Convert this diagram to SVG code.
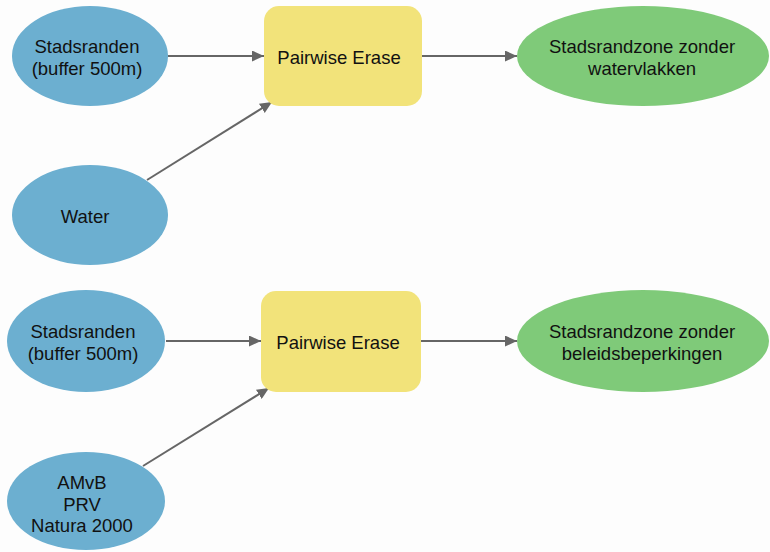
<svg xmlns="http://www.w3.org/2000/svg" width="770" height="552" viewBox="0 0 770 552">
  <style>
    .input { fill: #6cafd0; }
    .tool { fill: #f2e37a; }
    .output { fill: #7fca79; }
    .label { font-family: "Liberation Sans", Arial, sans-serif; font-size: 18.5px; fill: #111; text-anchor: middle; }
    .conn { stroke: #666; stroke-width: 2; fill: none; marker-end: url(#arrow); }
  </style>
  <defs>
    <marker id="arrow" markerWidth="12" markerHeight="11" refX="12" refY="5.5" orient="auto" markerUnits="userSpaceOnUse">
      <path d="M0,0 L12,5.5 L0,11 Z" fill="#666"/>
    </marker>
  </defs>
  <rect width="770" height="552" fill="#fdfdfd"/>

  <g id="connectors">
    <line class="conn" x1="168" y1="56" x2="264" y2="56"/>
    <line class="conn" x1="147" y1="180" x2="272" y2="102"/>
    <line class="conn" x1="422" y1="56" x2="517" y2="56"/>
    <line class="conn" x1="166" y1="341" x2="261" y2="341"/>
    <line class="conn" x1="143" y1="466" x2="269" y2="388"/>
    <line class="conn" x1="421" y1="341" x2="517" y2="341"/>
  </g>

  <g id="stadsranden-1">
    <ellipse class="input" cx="90" cy="56" rx="78" ry="50"/>
    <text class="label" x="87" y="53">Stadsranden</text>
    <text class="label" x="87" y="75">(buffer 500m)</text>
  </g>
  <g id="water">
    <ellipse class="input" cx="90" cy="215" rx="78" ry="50"/>
    <text class="label" x="85" y="223">Water</text>
  </g>
  <g id="pairwise-erase-1">
    <rect class="tool" x="264" y="6" width="158" height="100" rx="15"/>
    <text class="label" x="339" y="64">Pairwise Erase</text>
  </g>
  <g id="zone-zonder-water">
    <ellipse class="output" cx="643" cy="56" rx="126" ry="50"/>
    <text class="label" x="642" y="53">Stadsrandzone zonder</text>
    <text class="label" x="642" y="75">watervlakken</text>
  </g>

  <g id="stadsranden-2">
    <ellipse class="input" cx="86" cy="341" rx="79" ry="51"/>
    <text class="label" x="83" y="338">Stadsranden</text>
    <text class="label" x="83" y="360">(buffer 500m)</text>
  </g>
  <g id="beleid">
    <ellipse class="input" cx="86" cy="501" rx="79" ry="49"/>
    <text class="label" x="82" y="489">AMvB</text>
    <text class="label" x="82" y="511">PRV</text>
    <text class="label" x="82" y="532">Natura 2000</text>
  </g>
  <g id="pairwise-erase-2">
    <rect class="tool" x="261" y="291" width="160" height="101" rx="15"/>
    <text class="label" x="338" y="349">Pairwise Erase</text>
  </g>
  <g id="zone-zonder-beleid">
    <ellipse class="output" cx="643" cy="341" rx="126" ry="51"/>
    <text class="label" x="642" y="338">Stadsrandzone zonder</text>
    <text class="label" x="642" y="360">beleidsbeperkingen</text>
  </g>
</svg>
